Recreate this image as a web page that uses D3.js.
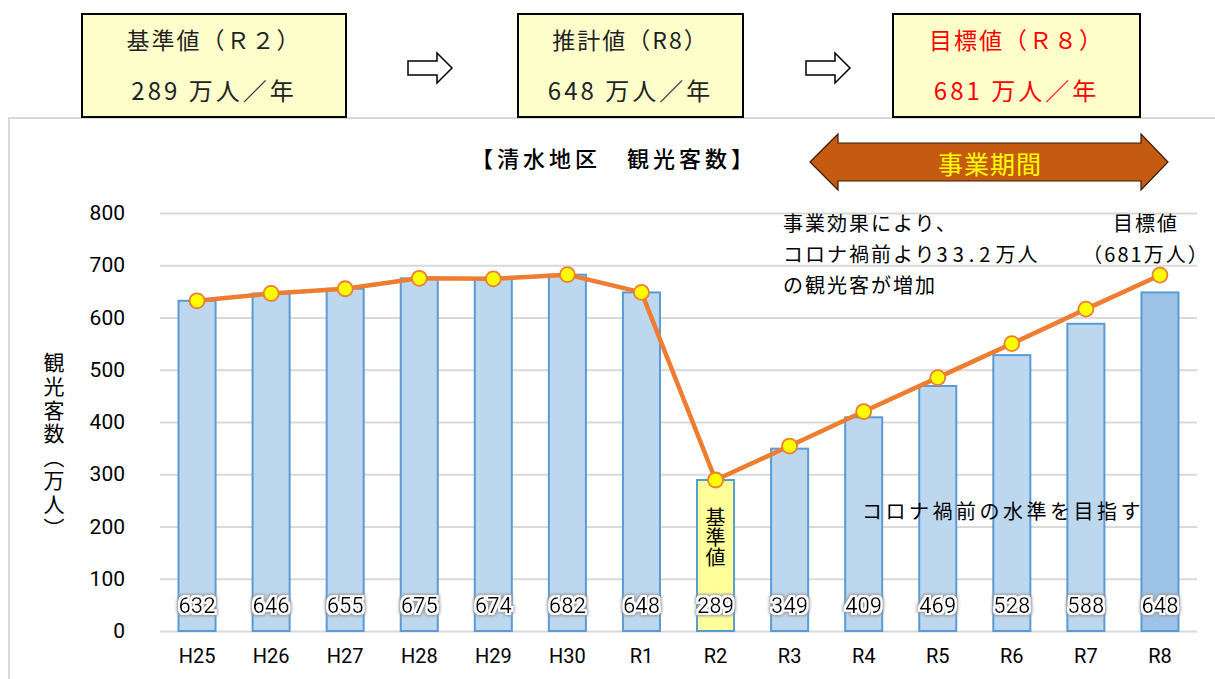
<!DOCTYPE html>
<html lang="ja">
<head>
<meta charset="utf-8">
<script src="https://cdn.jsdelivr.net/npm/d3@7"></script>
<style>
  html, body { margin: 0; padding: 0; background: #fff; }
  svg { display: block; }
  .jp { font-family: "Noto Sans CJK JP", "Noto Sans", sans-serif; }
  .num { font-family: Roboto, "Liberation Sans", sans-serif; }
</style>
</head>
<body>
<svg id="chart" width="1215" height="679"></svg>
<script>
// Tourist visitors, Shimizu district (10,000 persons)
const categories = ["H25", "H26", "H27", "H28", "H29", "H30", "R1", "R2", "R3", "R4", "R5", "R6", "R7", "R8"];
const visitors   = [632, 646, 655, 675, 674, 682, 648, 289, 349, 409, 469, 528, 588, 648];
const targetPath = [632, 646, 655, 675, 674, 682, 648, 289, 354, 420, 485, 550, 616, 681];
const yTicks     = [0, 100, 200, 300, 400, 500, 600, 700, 800];

const baseYear   = "R2";
const targetYear = "R8";

// Summary boxes along the top
const summaryTitles = ["基準値（Ｒ２）", "推計値（R8）", "目標値（Ｒ８）"];
const summaryValues = ["289 万人／年", "648 万人／年", "681 万人／年"];
const summaryColors = ["#222", "#222", "#ff0000"];

const svg = d3.select("#chart");

// outer panel frame
svg.append("path")
  .attr("d", "M9,679 V118 H1215")
  .attr("fill", "none").attr("stroke", "#d9d9d9").attr("stroke-width", 2);

// summary boxes
const boxX = [82, 518, 893];
const boxW = [264, 225, 247];
summaryTitles.forEach((t, i) => {
  const g = svg.append("g");
  g.append("rect")
    .attr("x", boxX[i]).attr("y", 14).attr("width", boxW[i]).attr("height", 103)
    .attr("fill", "#ffffcc").attr("stroke", "#000").attr("stroke-width", 2);
  const cx = boxX[i] + boxW[i] / 2;
  g.append("text").attr("class", "jp")
    .attr("x", cx).attr("y", 39).attr("text-anchor", "middle").attr("dominant-baseline", "central")
    .attr("font-size", 23).attr("letter-spacing", 2).attr("fill", summaryColors[i]).text(t);
  g.append("text").attr("class", "jp")
    .attr("x", cx).attr("y", 89).attr("text-anchor", "middle").attr("dominant-baseline", "central")
    .attr("font-size", 24).attr("letter-spacing", 3).attr("fill", summaryColors[i]).text(summaryValues[i]);
});

// hollow arrows between boxes
[408, 806].forEach(ax => {
  const p = d3.path();
  p.moveTo(ax, 61); p.lineTo(ax + 29, 61); p.lineTo(ax + 29, 53);
  p.lineTo(ax + 44, 68); p.lineTo(ax + 29, 83); p.lineTo(ax + 29, 75);
  p.lineTo(ax, 75); p.closePath();
  svg.append("path").attr("d", p.toString())
    .attr("fill", "#fff").attr("stroke", "#000").attr("stroke-width", 1.5);
});

// scales
const x = d3.scaleBand().domain(categories).range([160, 1197]).paddingInner(0.5).paddingOuter(0.25);
const y = d3.scaleLinear().domain([0, 800]).range([631, 213]);

// gridlines + y tick labels
const yAxis = d3.axisLeft(y).tickValues(yTicks).tickSize(-(1197 - 160)).tickPadding(35);
const gy = svg.append("g").attr("transform", "translate(160,0)").call(yAxis);
gy.select(".domain").remove();
gy.selectAll(".tick line").attr("stroke", "#d9d9d9").attr("stroke-width", 2);
gy.selectAll(".tick text").attr("class", "num").attr("font-size", 21).attr("fill", "#000");

// x axis labels
const xAxis = d3.axisBottom(x).tickSize(0).tickPadding(18);
const gx = svg.append("g").attr("transform", "translate(0,631)").call(xAxis);
gx.select(".domain").remove();
gx.selectAll(".tick text").attr("class", "num").attr("font-size", 20).attr("fill", "#000")
  .attr("dy", "0.71em");

// bars
svg.append("g").selectAll("rect").data(categories).join("rect")
  .attr("x", d => x(d))
  .attr("y", (d, i) => y(visitors[i]))
  .attr("width", x.bandwidth())
  .attr("height", (d, i) => y(0) - y(visitors[i]))
  .attr("fill", d => d === baseYear ? "#ffff99" : d === targetYear ? "#9dc3e6" : "#bdd7ee")
  .attr("stroke", "#5b9bd5").attr("stroke-width", 2);

// glow filter for value labels
const defs = svg.append("defs");
const f = defs.append("filter").attr("id", "glow").attr("x", "-20%").attr("y", "-30%").attr("width", "140%").attr("height", "160%");
f.append("feMorphology").attr("in", "SourceAlpha").attr("operator", "dilate").attr("radius", 3).attr("result", "d1");
f.append("feGaussianBlur").attr("in", "d1").attr("stdDeviation", 1.4).attr("result", "b1");
f.append("feFlood").attr("flood-color", "#9a9a9a").attr("result", "c1");
f.append("feComposite").attr("in", "c1").attr("in2", "b1").attr("operator", "in").attr("result", "shadow");
f.append("feMorphology").attr("in", "SourceAlpha").attr("operator", "dilate").attr("radius", 2).attr("result", "d2");
f.append("feFlood").attr("flood-color", "#ffffff").attr("result", "c2");
f.append("feComposite").attr("in", "c2").attr("in2", "d2").attr("operator", "in").attr("result", "halo");
const fm = f.append("feMerge");
fm.append("feMergeNode").attr("in", "shadow");
fm.append("feMergeNode").attr("in", "halo");
fm.append("feMergeNode").attr("in", "SourceGraphic");

// value labels inside bars
svg.append("g").selectAll("text").data(categories).join("text")
  .attr("class", "num")
  .attr("x", d => x(d) + x.bandwidth() / 2)
  .attr("y", y(49))
  .attr("text-anchor", "middle").attr("dominant-baseline", "central")
  .attr("font-size", 22).attr("fill", "#000")
  .attr("filter", "url(#glow)")
  .text((d, i) => visitors[i]);

// vertical label in the base-year bar
svg.append("text").attr("class", "jp")
  .attr("x", x(baseYear) + x.bandwidth() / 2).attr("y", 507)
  .attr("font-size", 20).attr("fill", "#000")
  .style("writing-mode", "vertical-rl")
  .text("基準値");

// target line with markers
const line = d3.line()
  .x((d, i) => x(categories[i]) + x.bandwidth() / 2)
  .y(d => y(d));
svg.append("path").datum(targetPath)
  .attr("d", line).attr("fill", "none")
  .attr("stroke", "#ed7d31").attr("stroke-width", 4.5).attr("stroke-linejoin", "round");
svg.append("g").selectAll("circle").data(targetPath).join("circle")
  .attr("cx", (d, i) => x(categories[i]) + x.bandwidth() / 2)
  .attr("cy", d => y(d))
  .attr("r", 7.5)
  .attr("fill", "#ffff00").attr("stroke", "#ed7d31").attr("stroke-width", 1.8);

// y axis title
svg.append("text").attr("class", "jp")
  .attr("x", 54).attr("y", 352)
  .attr("font-size", 21).attr("letter-spacing", 2.6).attr("fill", "#000")
  .style("writing-mode", "vertical-rl")
  .text("観光客数（万人）");

// chart title
svg.append("text").attr("class", "jp")
  .attr("x", 614).attr("y", 157)
  .attr("text-anchor", "middle").attr("dominant-baseline", "central")
  .attr("font-size", 22).attr("font-weight", 500).attr("letter-spacing", 4).attr("fill", "#000")
  .text("【清水地区　観光客数】");

// project-period double arrow
const ap = d3.path();
ap.moveTo(810, 162); ap.lineTo(838, 134); ap.lineTo(838, 143); ap.lineTo(1141, 143);
ap.lineTo(1141, 134); ap.lineTo(1168, 162); ap.lineTo(1141, 190); ap.lineTo(1141, 181);
ap.lineTo(838, 181); ap.lineTo(838, 190); ap.closePath();
svg.append("path").attr("d", ap.toString())
  .attr("fill", "#c55a11").attr("stroke", "#3a1a05").attr("stroke-width", 1.2);
svg.append("text").attr("class", "jp")
  .attr("x", 990).attr("y", 163)
  .attr("text-anchor", "middle").attr("dominant-baseline", "central")
  .attr("font-size", 25).attr("letter-spacing", 1).attr("fill", "#ffff00")
  .text("事業期間");

// annotations
const noteLines = ["事業効果により、", "コロナ禍前より33.2万人", "の観光客が増加"];
svg.append("g").selectAll("text").data(noteLines).join("text")
  .attr("class", "jp")
  .attr("x", 783).attr("y", (d, i) => 222 + i * 31)
  .attr("dominant-baseline", "central")
  .attr("font-size", 20).attr("letter-spacing", 2).attr("fill", "#000")
  .each(function (d) {
    // half-width digits are set on a wider pitch
    const el = d3.select(this);
    d.split(/(\d[\d.]*)/).filter(s => s).forEach(part => {
      el.append("tspan")
        .attr("letter-spacing", /\d/.test(part) ? 5 : 2)
        .text(part);
    });
  });

const goalLines = ["目標値", "（681万人）"];
svg.append("g").selectAll("text").data(goalLines).join("text")
  .attr("class", "jp")
  .attr("x", 1146).attr("y", (d, i) => 222 + i * 31)
  .attr("text-anchor", "middle").attr("dominant-baseline", "central")
  .attr("font-size", 20).attr("letter-spacing", 2).attr("fill", "#000")
  .text(d => d);

svg.append("text").attr("class", "jp")
  .attr("x", 862).attr("y", 510)
  .attr("dominant-baseline", "central")
  .attr("font-size", 20).attr("letter-spacing", 3.5).attr("fill", "#000")
  .text("コロナ禍前の水準を目指す");
</script>
</body>
</html>
